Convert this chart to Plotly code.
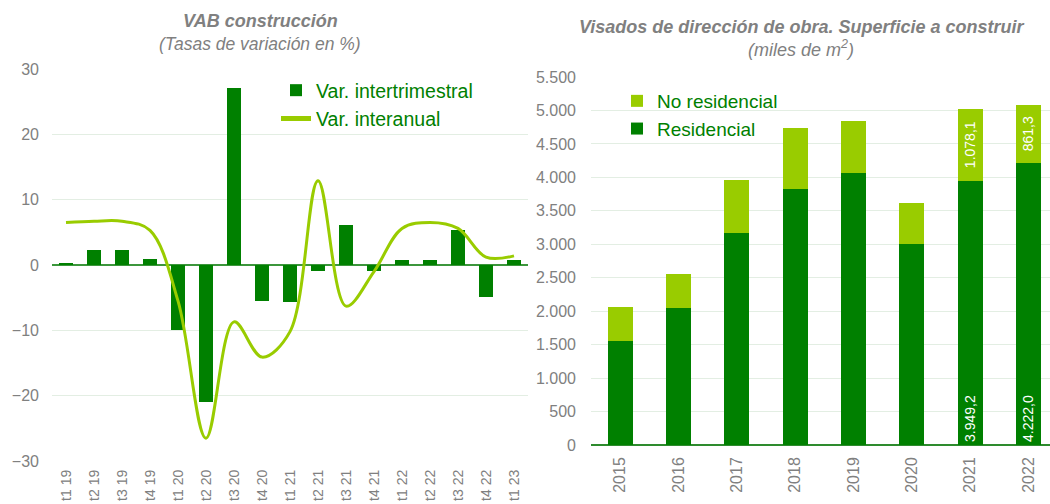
import plotly.graph_objects as go

# ---- Left chart data: VAB construcción ----
quarters = ["t1 19", "t2 19", "t3 19", "t4 19", "t1 20", "t2 20", "t3 20", "t4 20",
            "t1 21", "t2 21", "t3 21", "t4 21", "t1 22", "t2 22", "t3 22", "t4 22", "t1 23"]
var_intertrimestral = [0.3, 2.3, 2.3, 0.9, -10.0, -20.9, 27.1, -5.5,
                       -5.7, -0.9, 6.1, -0.9, 0.7, 0.8, 5.4, -4.9, 0.8]
var_interanual = [6.5, 6.7, 6.7, 5.3, -5.5, -26.5, -8.7, -14.1,
                  -10.2, 12.9, -6.3, -1.0, 5.6, 6.5, 5.6, 1.2, 1.4]

# ---- Right chart data: Visados ----
years = ["2015", "2016", "2017", "2018", "2019", "2020", "2021", "2022"]
residencial = [1554, 2052, 3173, 3831, 4066, 3004, 3949.2, 4222.0]
no_residencial = [504, 504, 788, 903, 772, 618, 1078.1, 861.3]
labelled_years = ["2021", "2022"]

DARK = "#008000"
LIGHT = "#99CC00"
GRAY = "#808080"
GRID = "#E3EEE3"
FONT = "Liberation Sans, Arial, sans-serif"


def es_fmt(v):
    s = f"{v:,.1f}"
    return s.replace(",", "X").replace(".", ",").replace("X", ".")


res_text = [es_fmt(v) if y in labelled_years else "" for y, v in zip(years, residencial)]
nores_text = [es_fmt(v) if y in labelled_years else "" for y, v in zip(years, no_residencial)]

fig = go.Figure()

fig.add_trace(go.Bar(
    x=quarters, y=var_intertrimestral, name="Var. intertrimestral",
    marker=dict(color=DARK, line=dict(width=0)), width=0.49,
    xaxis="x", yaxis="y", legend="legend"))
fig.add_trace(go.Scatter(
    x=quarters, y=var_interanual, name="Var. interanual", mode="lines",
    line=dict(color=LIGHT, width=3, shape="spline", smoothing=1.0),
    xaxis="x", yaxis="y", legend="legend"))

fig.add_trace(go.Bar(
    x=years, y=residencial, name="Residencial",
    marker=dict(color=DARK, line=dict(width=0)), width=0.43,
    text=res_text, textposition="inside", insidetextanchor="start",
    textangle=-90, textfont=dict(color="white", size=14, family=FONT),
    constraintext="none",
    xaxis="x2", yaxis="y2", legend="legend2"))
fig.add_trace(go.Bar(
    x=years, y=no_residencial, name="No residencial",
    marker=dict(color=LIGHT, line=dict(width=0)), width=0.43,
    text=nores_text, textposition="inside", insidetextanchor="middle",
    textangle=-90, textfont=dict(color="white", size=14, family=FONT),
    constraintext="none",
    xaxis="x2", yaxis="y2", legend="legend2"))

H = 504.0
W = 1050.0

fig.update_layout(
    template="none",
    width=1050, height=504,
    margin=dict(l=0, r=0, t=0, b=0, autoexpand=False),
    paper_bgcolor="white", plot_bgcolor="white",
    barmode="stack",
    separators=",.",
    font=dict(family=FONT, color=GRAY, size=16),
    showlegend=True,
    xaxis=dict(domain=[52 / W, 528 / W], type="category", range=[-0.5, 16.5],
               automargin=False,
               tickangle=-90, showgrid=False, showline=False, ticks="",
               tickfont=dict(size=14, color=GRAY), ticklabelstandoff=5),
    yaxis=dict(domain=[(H - 461) / H, (H - 69) / H], range=[-30, 30], dtick=10,
               automargin=False,
               showgrid=True, gridcolor=GRID, gridwidth=1,
               zeroline=True, zerolinecolor="#3C963C", zerolinewidth=1.5,
               showline=False, ticks="", tickfont=dict(size=16, color=GRAY),
               ticklabelstandoff=12),
    xaxis2=dict(domain=[591 / W, 1.0], type="category", range=[-0.5, 7.37],
                automargin=False,
                tickangle=-90, showgrid=False, showline=False, ticks="",
                tickfont=dict(size=16, color=GRAY), anchor="y2", ticklabelstandoff=8),
    yaxis2=dict(domain=[(H - 445) / H, (H - 77) / H], range=[0, 5500], dtick=500,
                automargin=False,
                tickformat=",d", showgrid=True, gridcolor=GRID, gridwidth=1,
                zeroline=True, zerolinecolor="#2E8B2E", zerolinewidth=1.5,
                showline=False, ticks="", tickfont=dict(size=16, color=GRAY),
                anchor="x2", ticklabelstandoff=14),
    legend=dict(x=276 / W, y=(H - 71) / H, xanchor="left", yanchor="top",
                bgcolor="rgba(0,0,0,0)", font=dict(size=19.5, color=DARK),
                traceorder="normal", tracegroupgap=0, itemsizing="constant"),
    legend2=dict(x=617 / W, y=(H - 82) / H, xanchor="left", yanchor="top",
                 bgcolor="rgba(0,0,0,0)", font=dict(size=19, color=DARK),
                 traceorder="reversed", itemsizing="constant"),
    annotations=[
        dict(text="<b><i>VAB construcción</i></b>", x=260 / W, y=(H - 21) / H,
             xref="paper", yref="paper", showarrow=False,
             font=dict(size=18, color=GRAY), xanchor="center", yanchor="middle"),
        dict(text="<i>(Tasas de variación en %)</i>", x=260 / W, y=(H - 44) / H,
             xref="paper", yref="paper", showarrow=False,
             font=dict(size=17.5, color=GRAY), xanchor="center", yanchor="middle"),
        dict(text="<b><i>Visados de dirección de obra. Superficie a construir</i></b>",
             x=801 / W, y=(H - 27) / H, xref="paper", yref="paper", showarrow=False,
             font=dict(size=18, color=GRAY), xanchor="center", yanchor="middle"),
        dict(text="<i>(miles de m<sup>2</sup>)</i>", x=801 / W, y=(H - 48) / H,
             xref="paper", yref="paper", showarrow=False,
             font=dict(size=18, color=GRAY), xanchor="center", yanchor="middle"),
    ],
)

fig.write_html("out.html", config={"displayModeBar": False},
               post_script="document.body.style.margin='0px';")
